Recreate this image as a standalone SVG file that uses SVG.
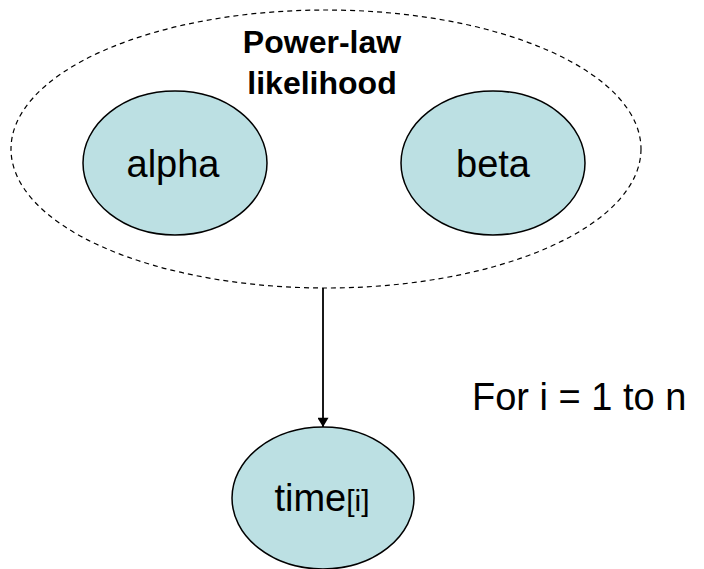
<svg xmlns="http://www.w3.org/2000/svg" width="704" height="569" viewBox="0 0 704 569">
<style>
.node{fill:#bce0e3;stroke:#000;stroke-width:1.5}
.lbl{font-family:"Liberation Sans",Arial,sans-serif;font-size:38px;fill:#000;text-anchor:middle}
.title{font-family:"Liberation Sans",Arial,sans-serif;font-weight:bold;font-size:32px;fill:#000;text-anchor:middle}
.plate{fill:none;stroke:#000;stroke-width:1.2;stroke-dasharray:5,4}
.edge{stroke:#000;stroke-width:1.8;fill:none}
</style>
<defs>
<marker id="arr" viewBox="0 0 10 12" refX="10" refY="6" markerWidth="12" markerHeight="11" markerUnits="userSpaceOnUse" orient="auto">
<path d="M0,0 L10,6 L0,12 z" fill="#000"/>
</marker>
</defs>
<g id="plate">
<ellipse class="plate" cx="326" cy="149" rx="315" ry="139"/>
<text class="title" x="322" y="53">Power-law</text>
<text class="title" x="322" y="94">likelihood</text>
</g>
<g id="alpha">
<ellipse class="node" cx="175" cy="163" rx="92" ry="72"/>
<text class="lbl" x="173" y="177">alpha</text>
</g>
<g id="beta">
<ellipse class="node" cx="493" cy="163" rx="92" ry="72"/>
<text class="lbl" x="493" y="177">beta</text>
</g>
<g id="time">
<ellipse class="node" cx="323" cy="498" rx="91" ry="71"/>
<text class="lbl" x="322" y="511">time<tspan font-size="30">[i]</tspan></text>
</g>
<g id="connectors">
<line class="edge" x1="323" y1="288" x2="323" y2="427" marker-end="url(#arr)"/>
</g>
<text x="472" y="410" font-family="Liberation Sans,Arial,sans-serif" font-size="38">For i = 1 to n</text>
</svg>
